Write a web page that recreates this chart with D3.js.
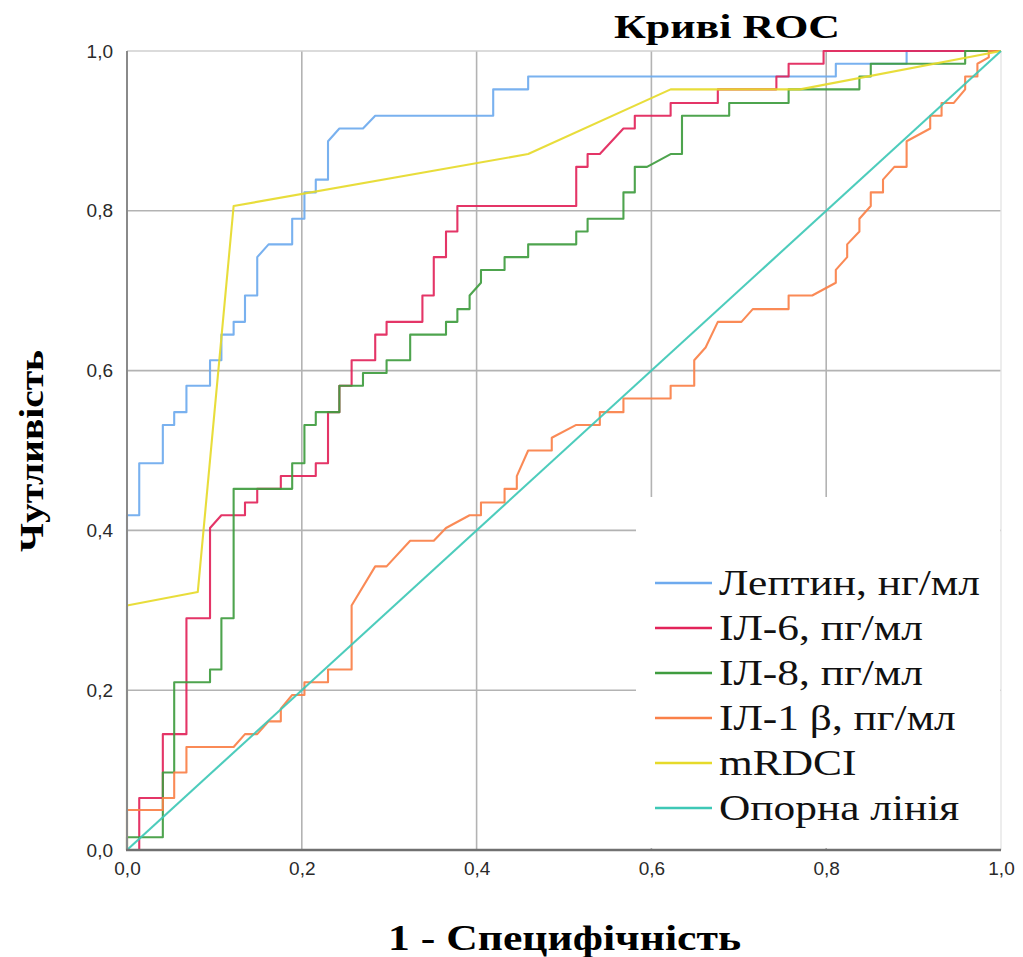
<!DOCTYPE html>
<html>
<head>
<meta charset="utf-8">
<script src="https://cdn.jsdelivr.net/npm/d3@7"></script>
<style>
  body { margin: 0; background: #fff; }
  svg { display: block; }
</style>
</head>
<body>
<svg id="chart" width="1023" height="957"></svg>
<script>
// ROC curves: each curve is a list of [1 - specificity, sensitivity] vertices
const leptinRoc = [[0,0],[0,0.419],[0.014,0.419],[0.014,0.484],[0.041,0.484],[0.041,0.532],[0.054,0.532],[0.054,0.548],[0.068,0.548],[0.068,0.581],[0.095,0.581],[0.095,0.613],[0.108,0.613],[0.108,0.645],[0.122,0.645],[0.122,0.661],[0.135,0.661],[0.135,0.694],[0.149,0.694],[0.149,0.742],[0.162,0.758],[0.189,0.758],[0.189,0.790],[0.203,0.790],[0.203,0.823],[0.216,0.823],[0.216,0.839],[0.230,0.839],[0.230,0.887],[0.243,0.903],[0.270,0.903],[0.284,0.919],[0.419,0.919],[0.419,0.952],[0.459,0.952],[0.459,0.968],[0.811,0.968],[0.811,0.984],[0.892,0.984],[0.892,1],[1,1]];

const il6Roc = [[0,0],[0.014,0],[0.014,0.065],[0.041,0.065],[0.041,0.145],[0.068,0.145],[0.068,0.290],[0.095,0.290],[0.095,0.403],[0.108,0.419],[0.135,0.419],[0.135,0.435],[0.149,0.435],[0.149,0.452],[0.176,0.452],[0.176,0.468],[0.216,0.468],[0.216,0.484],[0.230,0.484],[0.230,0.548],[0.243,0.548],[0.243,0.581],[0.257,0.581],[0.257,0.613],[0.284,0.613],[0.284,0.645],[0.297,0.645],[0.297,0.661],[0.338,0.661],[0.338,0.694],[0.351,0.694],[0.351,0.742],[0.365,0.742],[0.365,0.774],[0.378,0.774],[0.378,0.806],[0.514,0.806],[0.514,0.855],[0.527,0.855],[0.527,0.871],[0.541,0.871],[0.568,0.903],[0.581,0.903],[0.581,0.919],[0.622,0.919],[0.622,0.935],[0.676,0.935],[0.676,0.952],[0.743,0.952],[0.743,0.968],[0.757,0.968],[0.757,0.984],[0.797,0.984],[0.797,1],[1,1]];

const il8Roc = [[0,0],[0,0.016],[0.041,0.016],[0.041,0.097],[0.054,0.097],[0.054,0.210],[0.095,0.210],[0.095,0.226],[0.108,0.226],[0.108,0.290],[0.122,0.290],[0.122,0.452],[0.189,0.452],[0.189,0.484],[0.203,0.484],[0.203,0.532],[0.216,0.532],[0.216,0.548],[0.243,0.548],[0.243,0.581],[0.270,0.581],[0.270,0.597],[0.297,0.597],[0.297,0.613],[0.324,0.613],[0.324,0.645],[0.365,0.645],[0.365,0.661],[0.378,0.661],[0.378,0.677],[0.392,0.677],[0.392,0.694],[0.405,0.710],[0.405,0.726],[0.432,0.726],[0.432,0.742],[0.459,0.742],[0.459,0.758],[0.514,0.758],[0.514,0.774],[0.527,0.774],[0.527,0.790],[0.568,0.790],[0.568,0.823],[0.581,0.823],[0.581,0.855],[0.595,0.855],[0.622,0.871],[0.635,0.871],[0.635,0.919],[0.689,0.919],[0.689,0.935],[0.757,0.935],[0.757,0.952],[0.838,0.952],[0.838,0.968],[0.851,0.968],[0.851,0.984],[0.959,0.984],[0.959,1],[1,1]];

const il1bRoc = [[0,0],[0,0.050],[0.041,0.050],[0.041,0.065],[0.054,0.065],[0.054,0.097],[0.068,0.097],[0.068,0.129],[0.122,0.129],[0.135,0.145],[0.149,0.145],[0.162,0.161],[0.176,0.161],[0.176,0.177],[0.189,0.194],[0.203,0.194],[0.203,0.210],[0.230,0.210],[0.230,0.226],[0.257,0.226],[0.257,0.306],[0.284,0.355],[0.297,0.355],[0.324,0.387],[0.351,0.387],[0.365,0.403],[0.392,0.419],[0.405,0.419],[0.405,0.435],[0.432,0.435],[0.432,0.452],[0.446,0.452],[0.446,0.468],[0.459,0.500],[0.486,0.500],[0.486,0.516],[0.514,0.532],[0.541,0.532],[0.541,0.548],[0.568,0.548],[0.568,0.565],[0.622,0.565],[0.622,0.581],[0.649,0.581],[0.649,0.613],[0.662,0.629],[0.676,0.661],[0.703,0.661],[0.716,0.677],[0.757,0.677],[0.757,0.694],[0.784,0.694],[0.811,0.710],[0.811,0.726],[0.824,0.742],[0.824,0.758],[0.838,0.774],[0.838,0.790],[0.851,0.806],[0.851,0.823],[0.865,0.823],[0.865,0.839],[0.878,0.855],[0.892,0.855],[0.892,0.887],[0.919,0.903],[0.919,0.919],[0.932,0.919],[0.932,0.935],[0.946,0.935],[0.959,0.952],[0.959,0.968],[0.973,0.968],[0.973,0.984],[0.986,0.992],[0.986,1],[1,1]];

const mrdciRoc = [[0,0],[0,0.306],[0.081,0.323],[0.122,0.806],[0.459,0.871],[0.622,0.952],[0.770,0.952],[1,1]];

const referenceLine = [[0,0],[1,1]];

const seriesNames = ["Лептин, нг/мл", "ІЛ-6, пг/мл", "ІЛ-8, пг/мл", "ІЛ-1 β, пг/мл", "mRDCI", "Опорна лінія"];
const seriesColors = ["#6eaaee", "#e2245a", "#3f9c3f", "#fa8048", "#e6da2a", "#3ec8b6"];
const seriesData = [leptinRoc, il6Roc, il8Roc, il1bRoc, mrdciRoc, referenceLine];

const tickValues = [0, 0.2, 0.4, 0.6, 0.8, 1.0];
const tickLabels = ["0,0", "0,2", "0,4", "0,6", "0,8", "1,0"];

const chartTitle = "Криві ROC";
const xTitle = "1 - Специфічність";
const yTitle = "Чутливість";

// ---- layout ----
const plot = { left: 127, right: 1001, top: 51, bottom: 850 };
const svg = d3.select("#chart");

const x = d3.scaleLinear().domain([0, 1]).range([plot.left, plot.right]);
const y = d3.scaleLinear().domain([0, 1]).range([plot.bottom, plot.top]);

// grid
const grid = svg.append("g");
grid.selectAll("line.v").data(tickValues.slice(1, 5)).join("line")
  .attr("x1", d => x(d)).attr("x2", d => x(d))
  .attr("y1", y(0)).attr("y2", y(1))
  .attr("stroke", "#b3b3b3").attr("stroke-width", 1.6);
grid.selectAll("line.h").data(tickValues.slice(1, 5)).join("line")
  .attr("x1", x(0)).attr("x2", x(1))
  .attr("y1", d => y(d)).attr("y2", d => y(d))
  .attr("stroke", "#b3b3b3").attr("stroke-width", 1.6);
// frame top and right
svg.append("line").attr("x1", x(0)).attr("x2", x(1)).attr("y1", y(1)).attr("y2", y(1))
  .attr("stroke", "#cfcfcf").attr("stroke-width", 1.6);
svg.append("line").attr("x1", x(1)).attr("x2", x(1)).attr("y1", y(0)).attr("y2", y(1))
  .attr("stroke", "#e6e6e6").attr("stroke-width", 1.4);

// legend background covers the grid in the lower right corner
svg.append("rect")
  .attr("x", 636).attr("y", 497)
  .attr("width", x(1) - 1 - 636).attr("height", y(0) - 2 - 497)
  .attr("fill", "#fff");

// axes
const xAxis = d3.axisBottom(x).tickValues(tickValues).tickFormat((d, i) => tickLabels[i]).tickSize(0).tickPadding(12);
const yAxis = d3.axisLeft(y).tickValues(tickValues).tickFormat((d, i) => tickLabels[i]).tickSize(0).tickPadding(14);

const gx = svg.append("g").attr("transform", `translate(0,${plot.bottom})`).call(xAxis);
const gy = svg.append("g").attr("transform", `translate(${plot.left},0)`).call(yAxis);
[gx, gy].forEach(g => {
  g.select(".domain").remove();
  g.selectAll("text")
    .attr("font-family", "'Liberation Sans', Arial, sans-serif")
    .attr("font-size", 19)
    .attr("fill", "#2a2a2a");
});

// curves
const line = d3.line().x(d => x(d[0])).y(d => y(d[1]));
svg.append("g").selectAll("path").data(seriesData).join("path")
  .attr("d", line)
  .attr("fill", "none")
  .attr("stroke", (d, i) => seriesColors[i])
  .attr("stroke-width", 2.1)
  .attr("stroke-linejoin", "round")
  .attr("stroke-opacity", 0.92);

// axis lines
svg.append("line").attr("x1", x(0)).attr("x2", x(0)).attr("y1", y(0)).attr("y2", y(1))
  .attr("stroke", "#8a8a8a").attr("stroke-width", 2);
svg.append("line").attr("x1", x(0) - 1).attr("x2", x(1)).attr("y1", y(0)).attr("y2", y(0))
  .attr("stroke", "#707070").attr("stroke-width", 2.4);

// titles
const serif = "'Liberation Serif', 'Times New Roman', serif";
svg.append("text").text(chartTitle)
  .attr("x", 614).attr("y", 38)
  .attr("font-family", serif).attr("font-weight", "bold").attr("font-size", 33)
  .attr("textLength", 226).attr("lengthAdjust", "spacingAndGlyphs")
  .attr("fill", "#000");

svg.append("text").text(xTitle)
  .attr("x", 388).attr("y", 950)
  .attr("font-family", serif).attr("font-weight", "bold").attr("font-size", 35)
  .attr("textLength", 353).attr("lengthAdjust", "spacingAndGlyphs")
  .attr("fill", "#000");

svg.append("text").text(yTitle)
  .attr("transform", "translate(43,552) rotate(-90)")
  .attr("x", 0).attr("y", 0)
  .attr("font-family", serif).attr("font-weight", "bold").attr("font-size", 34)
  .attr("textLength", 202).attr("lengthAdjust", "spacingAndGlyphs")
  .attr("fill", "#000");

// legend
const legend = svg.append("g");
const rowGap = 45, firstRow = 583;
const rows = legend.selectAll("g").data(seriesNames).join("g")
  .attr("transform", (d, i) => `translate(0,${firstRow + i * rowGap})`);
rows.append("line")
  .attr("x1", 655).attr("x2", 712).attr("y1", 0).attr("y2", 0)
  .attr("stroke", (d, i) => seriesColors[i]).attr("stroke-width", 2.4);
rows.append("text")
  .text(d => d)
  .attr("transform", "translate(719,12) scale(1.24,1)")
  .attr("font-family", serif).attr("font-size", 35)
  .attr("fill", "#111");
</script>
</body>
</html>
